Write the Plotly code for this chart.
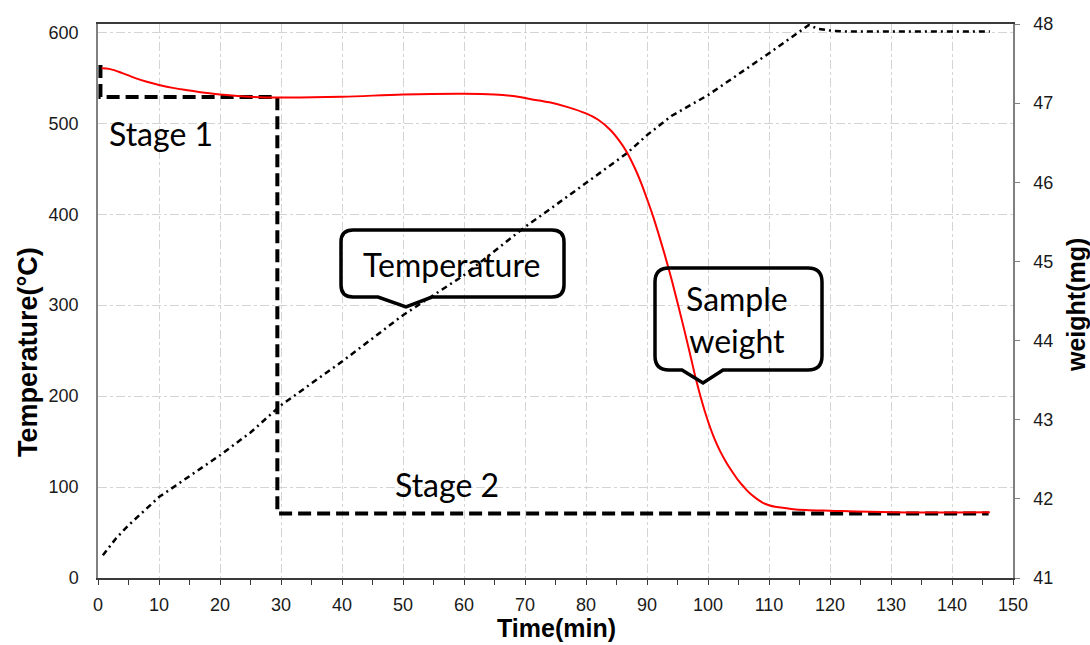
import plotly.graph_objects as go

# ---------------- data ----------------
temp_time = [0.8, 3, 5, 10, 15, 20, 25, 30, 40, 50, 60, 70, 75, 80, 86.7, 90, 94, 100, 110, 116.5, 118, 120, 122, 130, 140, 146.2]
temp_vals = [25, 44, 58, 89, 112, 135, 160, 190, 238, 289, 333, 386, 410, 434, 467, 487, 508, 531, 577, 608, 604, 602, 601, 601, 601, 601]

weight_time = [0.6, 2, 4, 6, 8, 10, 12.5, 15, 17.5, 20, 25, 30, 40, 50, 60, 65, 68, 71, 74, 77, 80, 82, 84,
               85.5, 86.7, 88, 89, 90, 91, 92, 93, 94, 95, 96, 97, 98, 99, 100, 101, 102, 103, 104, 105, 106,
               107, 108, 109, 110, 111, 112, 114, 116, 120, 130, 146.2]
weight_vals = [47.44, 47.43, 47.38, 47.32, 47.27, 47.23, 47.19, 47.16, 47.13, 47.11, 47.08, 47.07, 47.08, 47.11,
               47.12, 47.11, 47.09, 47.05, 47.01, 46.95, 46.87, 46.79, 46.66, 46.52, 46.38, 46.18, 46.00, 45.79,
               45.57, 45.32, 45.06, 44.78, 44.48, 44.17, 43.85, 43.52, 43.23, 42.98, 42.77, 42.60, 42.46, 42.34,
               42.23, 42.14, 42.06, 42.00, 41.95, 41.92, 41.90, 41.89, 41.87, 41.86, 41.85, 41.83, 41.83]

stage_time = [0.4, 0.4, 29.4, 29.4, 146]
stage_vals = [564, 529, 529, 71, 71]

x_ticks = list(range(0, 151, 10))
y_left_ticks = list(range(0, 601, 100))
y_right_ticks = list(range(41, 49))

# ---------------- layout constants ----------------
W, H = 1090, 645
L, R, T, B = 98, 1013, 24, 578

def px(x):
    return (x - L) / (R - L)

def py(y):
    return (B - y) / (B - T)

fig = go.Figure()

fig.add_trace(go.Scatter(x=temp_time, y=temp_vals, mode="lines", yaxis="y",
                         line=dict(color="black", width=2.5, dash="6px,4px,2px,4px"),
                         showlegend=False, hoverinfo="skip"))
fig.add_trace(go.Scatter(x=weight_time, y=weight_vals, mode="lines", yaxis="y2",
                         line=dict(color="#ff0000", width=2, shape="spline", smoothing=1.0),
                         showlegend=False))
fig.add_trace(go.Scatter(x=stage_time, y=stage_vals, mode="lines", yaxis="y",
                         line=dict(color="black", width=4, dash="13px,6px"),
                         showlegend=False, hoverinfo="skip"))

tick_font = dict(family="Liberation Sans, Arial", size=18, color="#1a1a1a")
grid_col = "#d4d4d4"

fig.update_layout(
    width=W, height=H,
    margin=dict(l=L, r=W - R, t=T, b=H - B),
    plot_bgcolor="white", paper_bgcolor="white",
    xaxis=dict(range=[0, 150], tickvals=x_ticks, showgrid=True, gridcolor=grid_col, griddash="dashdot",
               gridwidth=1, zeroline=False, showline=True, linecolor="#3a3a3a", linewidth=1.5, mirror=True,
               ticks="outside", ticklen=5, tickcolor="#3a3a3a",
               minor=dict(dtick=5, ticks="outside", ticklen=5, tickcolor="#3a3a3a", showgrid=False),
               tickfont=tick_font, ticklabelstandoff=5),
    yaxis=dict(range=[0, 609.2], tickvals=y_left_ticks, showgrid=True, gridcolor=grid_col, griddash="dashdot",
               gridwidth=1, zeroline=False, showline=True, linecolor="#808080", linewidth=1.5,
               ticks="", tickfont=tick_font, ticklabelstandoff=14),
    yaxis2=dict(range=[41, 48], tickvals=y_right_ticks, overlaying="y", side="right", showgrid=False,
                zeroline=False, showline=True, linecolor="#808080", linewidth=1.5,
                ticks="outside", ticklen=5, tickcolor="#808080", tickfont=tick_font, ticklabelstandoff=10),
)

# ---------------- callout boxes ----------------
def callout(left, top, right, bottom, notch, r):
    n0, tipx, tipy, n1 = notch
    def P(cmd, *xy):
        coords = [f"{px(xy[i]):.5f},{py(xy[i+1]):.5f}" for i in range(0, len(xy), 2)]
        return cmd + " " + " ".join(coords)
    d = " ".join([
        P("M", left + r, top),
        P("L", right - r, top),
        P("Q", right, top, right, top + r),
        P("L", right, bottom - r),
        P("Q", right, bottom, right - r, bottom),
        P("L", n1, bottom),
        P("L", tipx, tipy),
        P("L", n0, bottom),
        P("L", left + r, bottom),
        P("Q", left, bottom, left, bottom - r),
        P("L", left, top + r),
        P("Q", left, top, left + r, top),
        "Z",
    ])
    return dict(type="path", path=d, xref="paper", yref="paper",
                line=dict(color="black", width=3.5), fillcolor="rgba(0,0,0,0)", layer="above")

fig.add_shape(**callout(341, 230, 564, 297, (378, 406, 307, 432), 12))
fig.add_shape(**callout(655, 268, 822, 370, (682, 703, 383, 723), 14))

txt_font = dict(family="Lato, Open Sans", size=32, color="black")
for text, x, y in [("Stage 1", 160.5, 133.5), ("Stage 2", 447, 484), ("Temperature", 451, 264),
                   ("Sample<br>weight", 737, 319)]:
    fig.add_annotation(text=text, x=px(x), y=py(y), xref="paper", yref="paper", showarrow=False,
                       xanchor="center", yanchor="middle", font=txt_font)

title_font = dict(family="Liberation Sans, Arial", size=25, color="black")
fig.add_annotation(text="<b>Time(min)</b>", x=px(556), y=py(628), xref="paper", yref="paper",
                   showarrow=False, xanchor="center", yanchor="middle", font=title_font)
fig.add_annotation(text="<b>Temperature(°C)</b>", x=px(28), y=py(352), xref="paper", yref="paper",
                   showarrow=False, xanchor="center", yanchor="middle", textangle=-90,
                   font=dict(family="Liberation Sans, Arial", size=27, color="black"))
fig.add_annotation(text="<b>weight(mg)</b>", x=px(1076), y=py(305), xref="paper", yref="paper",
                   showarrow=False, xanchor="center", yanchor="middle", textangle=-90, font=title_font)

fig.write_html("out.html")
